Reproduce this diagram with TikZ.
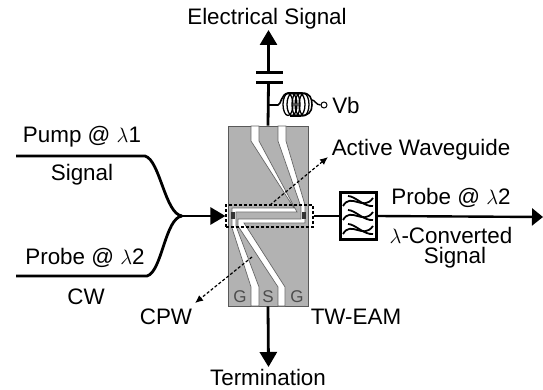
\documentclass[tikz,border=0pt]{standalone}
\usepackage{fontspec}
\setmainfont{Liberation Sans}
\usetikzlibrary{arrows.meta,positioning}

\begin{document}
\begin{tikzpicture}[x=1pt,y=-1pt,>={Triangle[length=15pt,width=17pt]},every node/.style={font=\fontsize{22.4}{24}\selectfont},
  wire/.style={line width=2.8pt},
  strip/.style={draw=black!60,fill=white,line width=0.7pt},
  pad/.style={text=black!70,font=\fontsize{17}{18}\selectfont},
  dotarrow/.style={densely dashed,line width=1.2pt,->,>={Latex[length=8pt,width=7pt]}}]
  \useasboundingbox (0,0) rectangle (543,390);
  % coordinates
  \coordinate (upin) at (16,156);
  \coordinate (upbend) at (145,156);
  \coordinate (lowin) at (16,276);
  \coordinate (lowbend) at (147,276);
  \coordinate (merge) at (182,216);
  \coordinate (capa) at (268.5,73);
  \coordinate (capb) at (268.5,83);
  \coordinate (elecend) at (268.5,30);
  \coordinate (termend) at (268.5,367);
  \coordinate (outend) at (543,217);
  \coordinate (coilin) at (268.5,105);
  \coordinate (awgtail) at (270,205);
  \coordinate (awghead) at (328,157);
  \coordinate (cpwtail) at (252,257);
  \coordinate (cpwhead) at (195,303);
  % chip
  \node[draw=black!65,fill=black!30,minimum width=80pt,minimum height=180pt,inner sep=0pt,line width=0.8pt] (chip) at (268,216) {};
  \draw[strip] (251,126) -- (259,126) -- (259,141) -- (297,212) -- (236,212) -- (236,226) -- (259,287) -- (259,306) -- (251,306) -- (251,287) -- (232,228) -- (232,208) -- (294,208) -- (251,141) -- cycle;
  \draw[strip] (278,126) -- (286,126) -- (286,141) -- (305,205) -- (305,223) -- (244,223) -- (285,287) -- (285,306) -- (278,306) -- (278,287) -- (238,226) -- (238,219) -- (301,219) -- (301,207) -- (278,141) -- cycle;
  \fill[black!80] (231,212) rectangle (235,219);
  \fill[black!80] (302,212) rectangle (306,219);
  \node[pad] (gleft) at (240,297) {G};
  \node[pad] (smid) at (268,297) {S};
  \node[pad] (gright) at (297,297) {G};
  % waveguide box
  \node[draw,densely dashed,line width=1.2pt,minimum width=87pt,minimum height=22pt,inner sep=0pt] (wgbox) at (269.5,216) {};
  % filter
  \node[draw,line width=3pt,fill=white,minimum width=36pt,minimum height=47pt,inner sep=0pt] (filter) at (358,216) {};
  \foreach \y in {202,216,230}{
    \draw[line width=1.8pt] (343,\y+4) .. controls (351,\y-10) and (363,\y+10) .. (373,\y-4);
    \draw[line width=1.8pt] (348,\y-6) .. controls (355,\y-6) and (364,\y+5) .. (373,\y+4);
  }
  % input coupler
  \draw[wire] (upin) -- (upbend) .. controls (160,160) and (165,214) .. (merge);
  \draw[wire] (lowin) -- (lowbend) .. controls (162,272) and (165,218) .. (merge);
  \draw[wire,->] (merge) -- (wgbox.west);
  \draw[wire] (wgbox.east) -- (filter.west);
  \draw[line width=2.4pt,->,>={Triangle[length=11pt,width=17pt]}] (filter.east) -- (outend);
  % top arm
  \draw[wire] (chip.north) -- (capb);
  \draw[wire,->] (capa) -- (elecend);
  \draw[line width=3pt] (256,73) -- (283,73);
  \draw[line width=3pt] (256,83) -- (283,83);
  \draw[wire,->] (chip.south) -- (termend);
  % bias coil
  \node[draw,circle,line width=1pt,minimum size=6pt,inner sep=0pt] (vbpin) at (324,105) {};
  \draw[line width=1.6pt] (coilin) -- (278,105) .. controls (281,105) and (281,94) .. (288,93) -- (302,93) .. controls (310,93) and (312,98) .. (312,105) .. controls (312,112) and (308,116) .. (300,116) -- (290,116);
  \draw[line width=1.4pt] (312,100) .. controls (315,100) and (316,105) .. (vbpin.west);
  \foreach \cx/\rx in {288/5,292/5,296/4,300/5,304/5}{
    \draw[line width=1.3pt] (\cx,104.5) ellipse [x radius=\rx,y radius=11];
  }
  % callouts
  \draw[dotarrow] (awgtail) -- (awghead);
  \draw[dotarrow] (cpwtail) -- (cpwhead);
  % labels
  \node (elec) at (267,19) {Electrical Signal};
  \node[inner sep=0pt] (term) at (268,377.5) {Termination};
  \node (vb) at (346,105) {Vb};
  \node (pump) at (82,137) {Pump @ $\lambda$1};
  \node (signal) at (82,175) {Signal};
  \node (probea) at (85,258) {Probe @ $\lambda$2};
  \node (cw) at (86,297) {CW};
  \node (awg) at (421,150) {Active Waveguide};
  \node (probeb) at (451,198) {Probe @ $\lambda$2};
  \node (conv) at (451,235) {$\lambda$-Converted};
  \node (convb) at (455,258) {Signal};
  \node (cpw) at (166,317) {CPW};
  \node (eam) at (356,317) {TW-EAM};
\end{tikzpicture}
\end{document}
